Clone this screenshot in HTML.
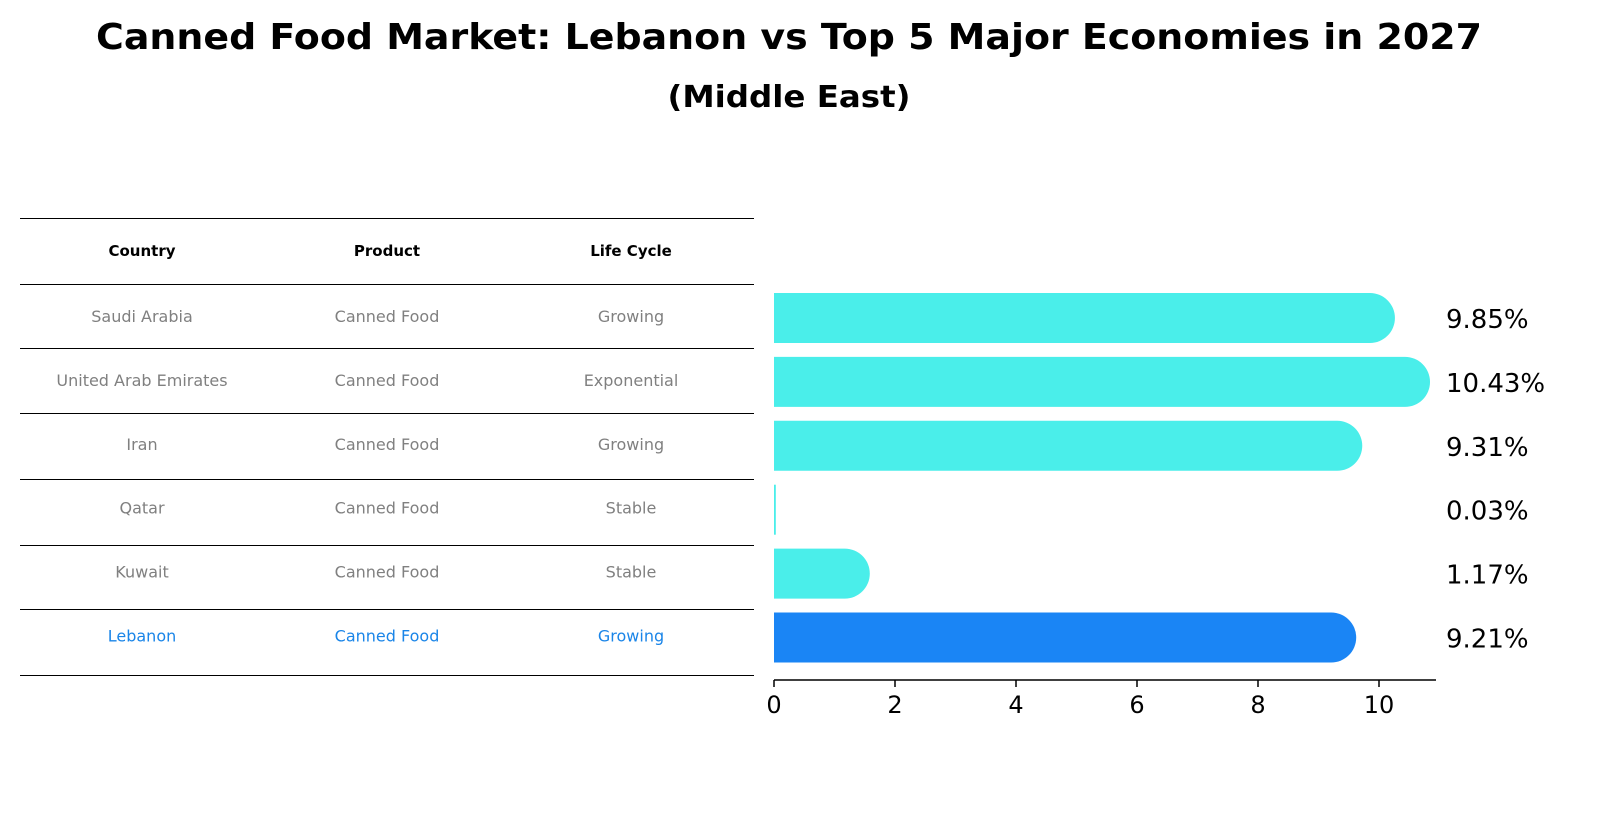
<!DOCTYPE html>
<html><head><meta charset="utf-8"><style>
body{margin:0;background:#fff;font-family:"DejaVu Sans","Liberation Sans",sans-serif;}
svg{display:block}
</style></head><body>
<svg width="1604" height="823">
<text x="789" y="49" text-anchor="middle" font-size="36" font-weight="bold" font-family="DejaVu Sans, sans-serif" textLength="1386" lengthAdjust="spacingAndGlyphs">Canned Food Market: Lebanon vs Top 5 Major Economies in 2027</text>
<text x="789" y="107" text-anchor="middle" font-size="30" font-weight="bold" font-family="DejaVu Sans, sans-serif" textLength="243" lengthAdjust="spacingAndGlyphs">(Middle East)</text>
<g id="table"></g>
<g id="bars"></g>
</svg>
<script>
const countries=["Saudi Arabia","United Arab Emirates","Iran","Qatar","Kuwait","Lebanon"];
const products=["Canned Food","Canned Food","Canned Food","Canned Food","Canned Food","Canned Food"];
const lifecycles=["Growing","Exponential","Growing","Stable","Stable","Growing"];
const values=[9.85,10.43,9.31,0.03,1.17,9.21];
const labels=["9.85%","10.43%","9.31%","0.03%","1.17%","9.21%"];
const ticks=[0,2,4,6,8,10];
const NS="http://www.w3.org/2000/svg";
function mk(t,a,p){const e=document.createElementNS(NS,t);for(const k in a)e.setAttribute(k,a[k]);p.appendChild(e);return e;}
const x=v=>774+v*60.5;
const rowY=i=>318+i*63.9;
const tbl=document.getElementById('table');
const lines=[218,284,348,413,479,545,609,675];
lines.forEach(y=>{const l=mk('line',{x1:20,x2:754,y1:y+0.5,y2:y+0.5,stroke:'#000','stroke-width':1},tbl);

});
const cx=[142,387,631];
["Country","Product","Life Cycle"].forEach((h,j)=>{const t=mk('text',{x:cx[j],y:256,'text-anchor':'middle','font-size':15,'font-weight':'bold','font-family':'DejaVu Sans, sans-serif'},tbl);t.textContent=h;

});
countries.forEach((c,i)=>{const col=i==5?'#1a85e8':'#808080';[c,products[i],lifecycles[i]].forEach((s,j)=>{const t=mk('text',{x:cx[j],y:rowY(i)+4,'text-anchor':'middle','font-size':16,fill:col,'font-family':'DejaVu Sans, sans-serif'},tbl);t.textContent=s;

});});
const g=document.getElementById('bars');
values.forEach((v,i)=>{const y=rowY(i),h=50,r=25;const col=i==5?'#1a85f5':'#4aeeea';
const w=x(v)-774;let d;
if(w<5){d=`M774 ${y-h/2}h${Math.max(w,1.5)}v${h}h-${Math.max(w,1.5)}z`;}else{d=`M774 ${y-h/2}H${x(v)}A${r} ${r} 0 0 1 ${x(v)} ${y+h/2}H774Z`;}
const p=mk('path',{d:d,fill:col},g);


const t=mk('text',{x:1446,y:y+10,'font-size':26,'font-family':'DejaVu Sans, sans-serif'},g);t.textContent=labels[i];

});
const ax=mk('line',{x1:774,x2:1436,y1:680,y2:680,stroke:'#000','stroke-width':1.5},g);


ticks.forEach(v=>{const l=mk('line',{x1:x(v),x2:x(v),y1:680,y2:687,stroke:'#000','stroke-width':1.5},g);


const t=mk('text',{x:x(v),y:713,'text-anchor':'middle','font-size':24,'font-family':'DejaVu Sans, sans-serif'},g);t.textContent=v;

});
</script>
</body></html>
